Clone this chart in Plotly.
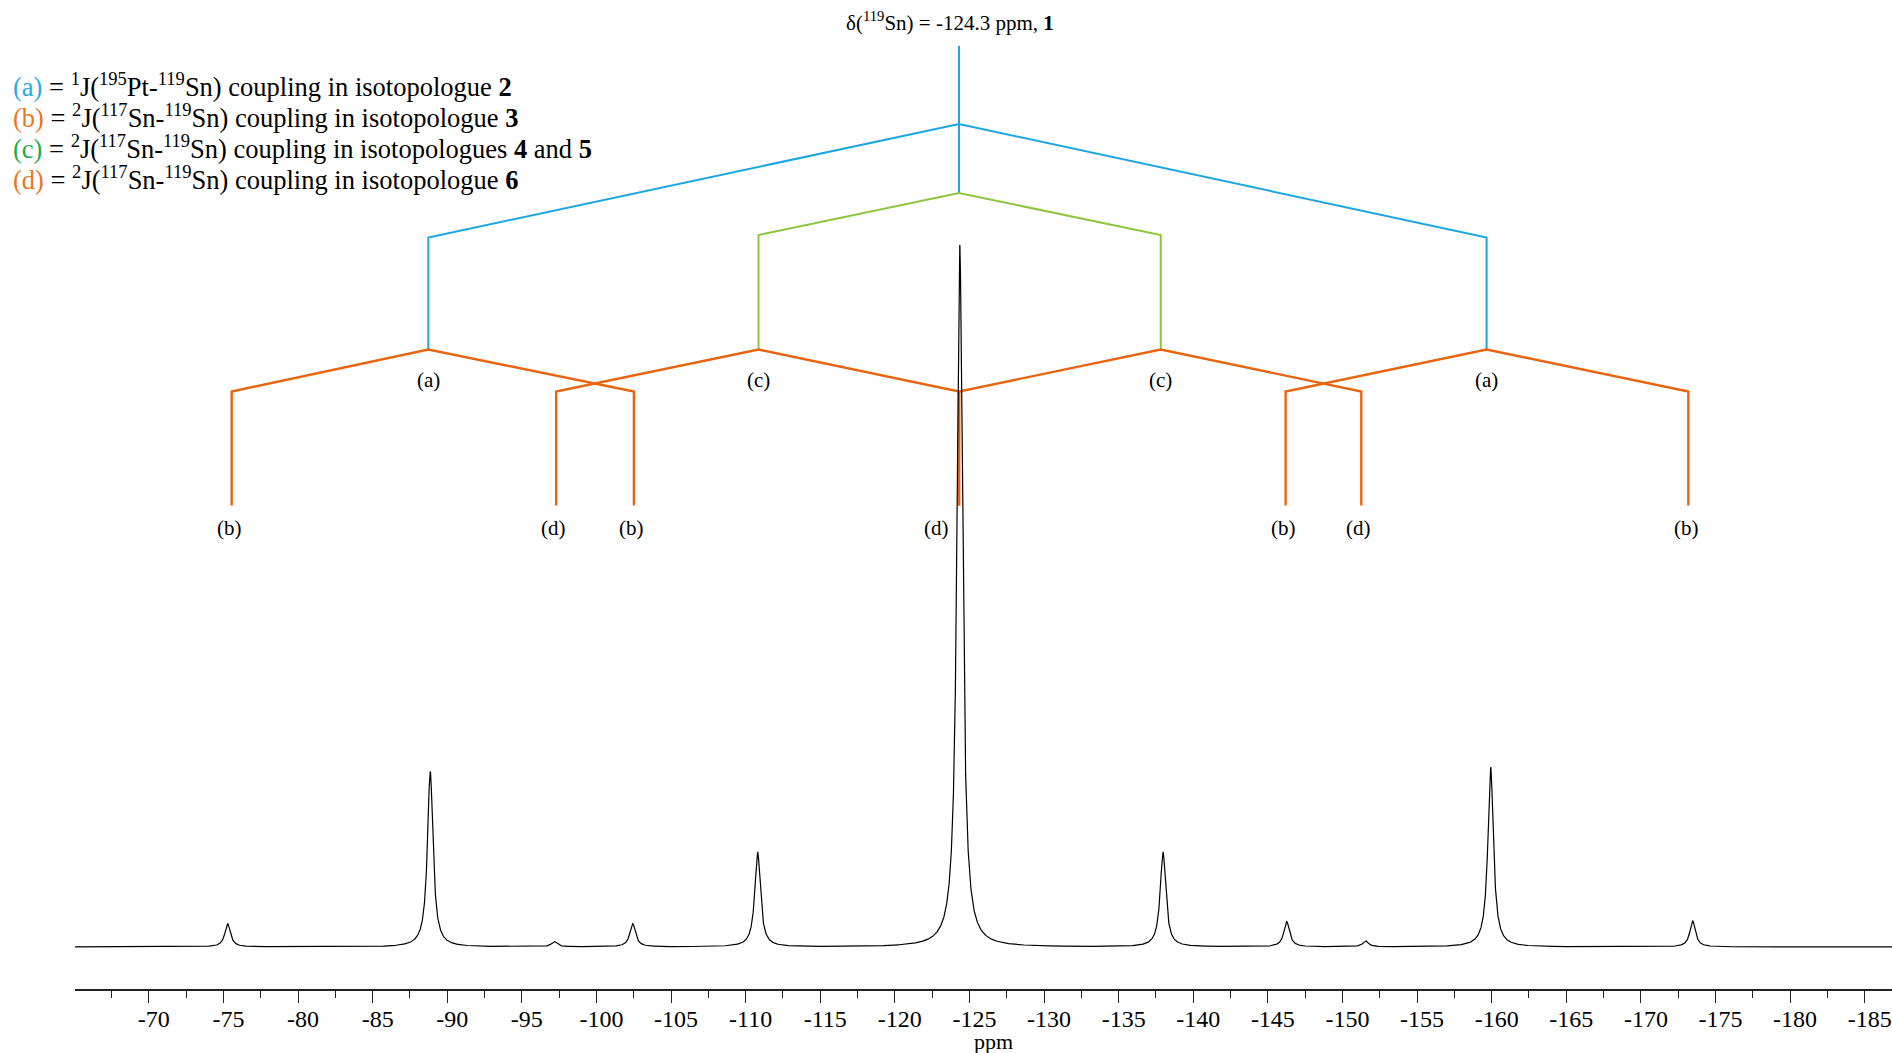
import numpy as np
import plotly.graph_objects as go

# ---------------- data ----------------
# 119Sn NMR peaks: position (ppm), height (% of main peak)
PEAK_PPM = [-75.28, -88.86, -97.17, -102.43, -110.80, -124.35, -137.97, -146.26, -151.55, -159.93, -173.47]
PEAK_HEIGHT = [3.3, 25.0, 0.75, 3.3, 13.5, 100.0, 13.5, 3.6, 0.85, 25.6, 3.7]
PEAK_FWHM = [0.45, 0.45, 0.45, 0.45, 0.45, 0.45, 0.45, 0.45, 0.45, 0.45, 0.45]

# splitting tree node positions (ppm)
TREE_CENTER = -124.3
TREE_A = [-88.73, -159.66]                     # 1J(195Pt-119Sn)
TREE_C = [-110.86, -137.82]                    # 2J(117Sn-119Sn), 4 and 5
TREE_B = [[-75.55, -102.51], [-146.19, -173.18]]   # children of (a)
TREE_D = [[-97.30, -124.30], [-124.30, -151.26]]   # children of (c)

TICK_VALUES = [-70, -75, -80, -85, -90, -95, -100, -105, -110, -115, -120, -125, -130,
               -135, -140, -145, -150, -155, -160, -165, -170, -175, -180, -185]
TICK_LABELS = ["-70", "-75", "-80", "-85", "-90", "-95", "-100", "-105", "-110", "-115",
               "-120", "-125", "-130", "-135", "-140", "-145", "-150", "-155", "-160",
               "-165", "-170", "-175", "-180", "-185"]
MINOR_TICKS = [-67.5, -72.5, -77.5, -82.5, -87.5, -92.5, -97.5, -102.5, -107.5, -112.5,
               -117.5, -122.5, -127.5, -132.5, -137.5, -142.5, -147.5, -152.5, -157.5,
               -162.5, -167.5, -172.5, -177.5, -182.5]

# ---------------- layout constants ----------------
W, H = 1892, 1053
ML, MB = 75, 64
X_RANGE = [-65.05, -186.83]
PLOT_H = H - MB
BASE_PX, PEAK_PX = 947.0, 245.0
SCALE = (BASE_PX - PEAK_PX) / 100.0
Y_RANGE = [-(PLOT_H - BASE_PX) / SCALE, BASE_PX / SCALE]

def ly(px):
    """pixel row -> y data units"""
    return (BASE_PX - px) / SCALE

def pyp(px):
    """pixel row -> paper y"""
    return (PLOT_H - px) / PLOT_H

def pxp(px):
    return (px - ML) / (W - ML)

FONT = "Liberation Serif, Times New Roman, serif"
BLUE = "#1BA6E2"
GREEN = "#8CC63F"
ORANGE = "#E8650F"
LBL_A = "#29ABE2"
LBL_B = "#E8771E"
LBL_C = "#1AAB4B"

# ---------------- spectrum (Lorentzian lines from peak list) ----------------
ppm = np.arange(X_RANGE[0], X_RANGE[1], -0.01)
inten = np.zeros_like(ppm)
for p, h, w in zip(PEAK_PPM, PEAK_HEIGHT, PEAK_FWHM):
    inten += h / (1.0 + ((ppm - p) / (w / 2.0)) ** 2)

fig = go.Figure()

# ---------------- splitting tree ----------------
def add_line(xs, ys, color, width):
    fig.add_trace(go.Scatter(x=xs, y=ys, mode="lines", line=dict(color=color, width=width),
                             hoverinfo="skip", showlegend=False))

# blue stem
add_line([TREE_CENTER, TREE_CENTER], [ly(46), ly(193)], BLUE, 2)
# blue (a) branches
add_line([TREE_A[0], TREE_A[0], TREE_CENTER, TREE_A[1], TREE_A[1]],
         [ly(350), ly(237.5), ly(124), ly(237.5), ly(350)], BLUE, 2)
# green (c) branches
add_line([TREE_C[0], TREE_C[0], TREE_CENTER, TREE_C[1], TREE_C[1]],
         [ly(350), ly(235), ly(193), ly(235), ly(350)], GREEN, 2)
# orange (b) and (d) branches
for parent, kids in list(zip(TREE_A, TREE_B)) + list(zip(TREE_C, TREE_D)):
    add_line([kids[0], kids[0], parent, kids[1], kids[1]],
             [ly(505.5), ly(391.5), ly(349.5), ly(391.5), ly(505.5)], ORANGE, 2.4)

# spectrum
fig.add_trace(go.Scatter(x=ppm, y=inten, mode="lines", line=dict(color="black", width=1.2),
                         hoverinfo="skip", showlegend=False))

annotations = []
def label(x, y_px, text, size=21, xshift=0, xref="x"):
    annotations.append(dict(x=x, y=pyp(y_px), xref=xref, yref="paper", text=text,
                            showarrow=False, xshift=xshift, xanchor="center", yanchor="middle",
                            font=dict(family=FONT, size=size, color="black")))

for x in TREE_A:
    label(x, 380, "(a)")
for x in TREE_C:
    label(x, 380, "(c)")
for pair in TREE_B:
    for x in pair:
        label(x, 528, "(b)", xshift=-2)
for x in sorted(set(TREE_D[0] + TREE_D[1])):
    label(x, 528, "(d)", xshift=(-23 if x == TREE_CENTER else -3))

label(TREE_CENTER, 22, "δ(<sup>119</sup>Sn) = -124.3 ppm, <b>1</b>", size=21, xshift=-9)
label(pxp(993), 1041, "ppm", size=22, xref="paper")

legend_lines = [
    f'<span style="color:{LBL_A}">(a)</span> = <sup>1</sup>J(<sup>195</sup>Pt-<sup>119</sup>Sn) coupling in isotopologue <b>2</b>',
    f'<span style="color:{LBL_B}">(b)</span> = <sup>2</sup>J(<sup>117</sup>Sn-<sup>119</sup>Sn) coupling in isotopologue <b>3</b>',
    f'<span style="color:{LBL_C}">(c)</span> = <sup>2</sup>J(<sup>117</sup>Sn-<sup>119</sup>Sn) coupling in isotopologues <b>4</b> and <b>5</b>',
    f'<span style="color:{LBL_B}">(d)</span> = <sup>2</sup>J(<sup>117</sup>Sn-<sup>119</sup>Sn) coupling in isotopologue <b>6</b>',
]
for i, t in enumerate(legend_lines):
    annotations.append(dict(x=pxp(11), y=pyp(85.5 + 30.8 * i), xref="paper", yref="paper", text=t,
                            showarrow=False, xanchor="left", yanchor="middle",
                            font=dict(family=FONT, size=26.5, color="black")))

fig.update_layout(
    width=W, height=H,
    margin=dict(l=ML, r=0, t=0, b=MB),
    paper_bgcolor="white", plot_bgcolor="white",
    showlegend=False,
    annotations=annotations,
    xaxis=dict(range=X_RANGE, showgrid=False, zeroline=False, showline=True,
               linecolor="#222", linewidth=1.5, ticks="outside", ticklen=12, tickwidth=1.2,
               tickcolor="#222", tickmode="array", tickvals=TICK_VALUES, ticktext=TICK_LABELS,
               ticklabelstandoff=-5, ticklabelshift=-5,
               tickfont=dict(family=FONT, size=24, color="black"),
               minor=dict(tickvals=MINOR_TICKS, ticks="outside", ticklen=7, tickwidth=1.2,
                          tickcolor="#222", showgrid=False)),
    yaxis=dict(range=Y_RANGE, visible=False, showgrid=False, zeroline=False),
)

fig.write_html("out.html", config={"displayModeBar": False},
               post_script="document.body.style.margin='0px';document.body.style.overflow='hidden';")
